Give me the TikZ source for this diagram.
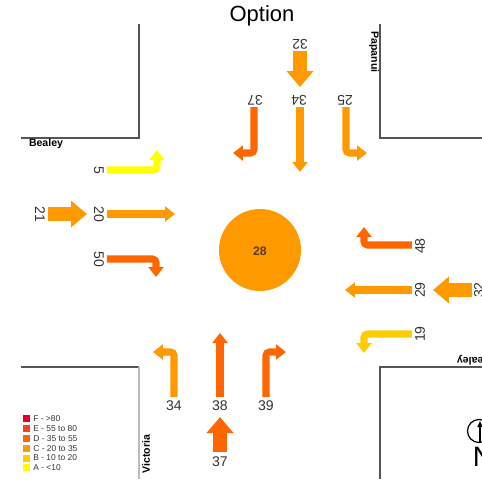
\documentclass[tikz,border=0pt]{standalone}
\usepackage{fontspec}
\setmainfont{Liberation Sans}
\usepackage{tikz}
\usetikzlibrary{arrows.meta}
\definecolor{losA}{HTML}{FFFF00}
\definecolor{losB}{HTML}{FFCC00}
\definecolor{losC}{HTML}{FF9900}
\definecolor{losD}{HTML}{FF6600}
\definecolor{losE}{HTML}{F0461E}
\definecolor{losF}{HTML}{E60026}
\definecolor{kerb}{HTML}{555555}
\definecolor{kerbL}{HTML}{BBBBBB}
\definecolor{numtext}{HTML}{333333}
\tikzset{
  kerbline/.style={line width=0.6pt, draw=kerb},
  mv/.style={line width=4pt, rounded corners=2pt, -{Triangle[length=0.2cm,width=0.3cm]}},
  appr/.style={line width=8.5pt, -{Triangle[length=0.32cm,width=0.52cm]}},
  num/.style={text=numtext, font=\footnotesize, inner sep=0pt},
  numN/.style={num, rotate=180},
  numW/.style={num, rotate=-90},
  numE/.style={num, rotate=90},
  street/.style={font=\fontsize{6}{7}\selectfont\bfseries, inner sep=0pt},
  keytxt/.style={font=\fontsize{4.8}{5}\selectfont, text=numtext, inner sep=0pt, anchor=west}
}
\begin{document}
\begin{tikzpicture}[x=0.02cm, y=-0.02cm]
  \useasboundingbox (0,0) rectangle (482,488);
  \node[font=\fontsize{12.5}{14}\selectfont] (title) at (262,16) {Option};

  % kerb corners
  \draw[kerbline] (139,24) -- (139,138) -- (21,138);
  \draw[kerbline] (380,24) -- (380,138) -- (482,138);
  \draw[kerbline] (21,367) -- (139,367);
  \draw[line width=0.6pt, draw=kerbL] (139,367) -- (139,479);
  \draw[kerbline] (482,367) -- (380,367) -- (380,479);
  \node[street] (bealeyW) at (46,144) {Bealey};
  \node[street, rotate=-90] (papanui) at (374,52) {Papanui};
  \node[street, rotate=90] (victoria) at (146,454) {Victoria};
  \node[street, rotate=180] (bealeyE) at (474,360) {Bealey};

  % roundabout
  \fill[losC] (260,250) circle (41);
  \node[num, text=numtext!80!losD, font=\scriptsize\bfseries] (rb) at (260,251) {28};

  % north approach
  \draw[appr, draw=losC] (300,51) -- (300,87);
  \node[numN] (nN) at (300,44) {32};
  \draw[mv, draw=losD] (254,107) -- (254,153) -- (233,153);
  \draw[mv, draw=losC] (300,107) -- (300,172);
  \draw[mv, draw=losC] (346,107) -- (346,153) -- (367,153);
  \node[numN] (nNL) at (255,100) {37};
  \node[numN] (nNT) at (299,100) {34};
  \node[numN] (nNR) at (345,100) {25};

  % west approach
  \draw[appr, draw=losC] (48,214) -- (87,214);
  \node[numW] (nW) at (40,214) {21};
  \draw[mv, draw=losA] (107,170) -- (157,170) -- (157,150);
  \draw[mv, draw=losC] (107,214) -- (175,214);
  \draw[mv, draw=losD] (107,259) -- (156,259) -- (156,277);
  \node[numW] (nWL) at (99,170) {5};
  \node[numW] (nWT) at (99,214) {20};
  \node[numW] (nWR) at (99,259) {50};

  % east approach
  \draw[appr, draw=losC] (472,290) -- (433,290);
  \node[numE] (nE) at (479,290) {32};
  \draw[mv, draw=losD] (412,245) -- (364,245) -- (364,227);
  \draw[mv, draw=losC] (412,290) -- (345,290);
  \draw[mv, draw=losB] (412,334) -- (364,334) -- (364,353);
  \node[numE] (nER) at (420,246) {48};
  \node[numE] (nET) at (420,290) {29};
  \node[numE] (nEL) at (420,334) {19};

  % south approach
  \draw[appr, draw=losD] (220,452) -- (220,417);
  \node[num] (nS) at (220,462) {37};
  \draw[mv, draw=losC] (174,397) -- (174,352) -- (153,352);
  \draw[mv, draw=losD] (220,397) -- (220,333);
  \draw[mv, draw=losD] (266,397) -- (266,352) -- (286,352);
  \node[num] (nSL) at (174,406) {34};
  \node[num] (nST) at (220,406) {38};
  \node[num] (nSR) at (266,406) {39};

  % level of service key
  \foreach \c/\t [count=\i] in {losF/F - >80, losE/E - 55 to 80, losD/D - 35 to 55,
      losC/C - 20 to 35, losB/B - 10 to 20, losA/A - <10} {
    \fill[\c] (23.5,405.5+9.8*\i) rectangle ++(7,7);
    \node[keytxt] (key\i) at (33,409+9.8*\i) {\t};
  }

  % north point
  \draw[line width=0.7pt] (479,431) circle (11.5);
  \draw[line width=0.7pt, -{Triangle[length=0.12cm,width=0.1cm]}] (480,443) -- (480,421);
  \node[font=\fontsize{16}{16}\selectfont, inner sep=0pt] (north) at (483,457) {N};
\end{tikzpicture}
\end{document}
